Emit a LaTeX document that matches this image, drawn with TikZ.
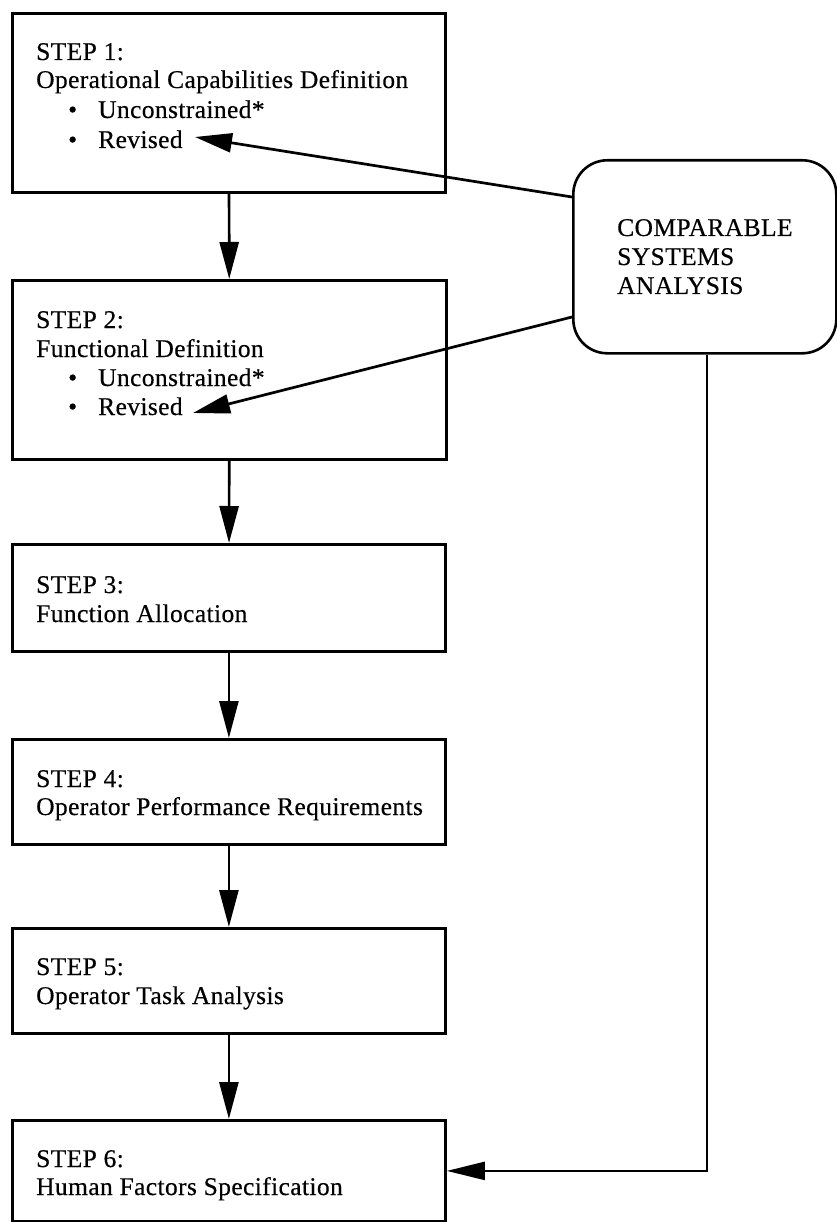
\documentclass[tikz,border=0pt]{standalone}
\usepackage{fontspec}
\setmainfont{Liberation Serif}[LetterSpace=1.5,FakeBold=0.4]
\usetikzlibrary{arrows.meta}
\begin{document}
\begin{tikzpicture}[x=1pt,y=-1pt,
  stepbox/.style={draw, line width=2.8pt, rectangle, inner sep=0pt, anchor=north west},
  csabox/.style={draw, line width=2.6pt, rectangle, rounded corners=34pt, inner sep=0pt, anchor=north west},
  txt/.style={anchor=base west, inner sep=0pt, font=\fontsize{25.5}{29}\selectfont},
  arr/.style={line width=2.7pt, -{Triangle[length=37pt,width=19pt]}},
  thinarr/.style={line width=2.3pt, -{Triangle[length=38pt,width=18pt]}}]
\useasboundingbox (0,0) rectangle (836,1222);
% boxes
\node[stepbox, minimum width=433pt, minimum height=179pt] (b1) at (11,12) {};
\node[stepbox, minimum width=434pt, minimum height=179pt] (b2) at (11,279) {};
\node[stepbox, minimum width=433pt, minimum height=107pt] (b3) at (11,543) {};
\node[stepbox, minimum width=433pt, minimum height=105pt] (b4) at (11,738) {};
\node[stepbox, minimum width=433pt, minimum height=105pt] (b5) at (11,927) {};
\node[stepbox, minimum width=433pt, minimum height=101pt] (b6) at (11,1119) {};
\node[csabox, minimum width=263pt, minimum height=193pt] (csa) at (572,159) {};
% texts
\node[txt] (s1) at (36,60) {STEP 1:};
\node[txt] (d1) at (36,88) {Operational Capabilities Definition};
\node[txt] (u1) at (68,118) {\makebox[30pt][l]{•}Unconstrained*};
\node[txt] (r1) at (68,148) {\makebox[30pt][l]{•}Revised};
\node[txt] (s2) at (36,328) {STEP 2:};
\node[txt] (d2) at (36,357) {Functional Definition};
\node[txt] (u2) at (68,386) {\makebox[30pt][l]{•}Unconstrained*};
\node[txt] (r2) at (68,415) {\makebox[30pt][l]{•}Revised};
\node[txt] (s3) at (36,593) {STEP 3:};
\node[txt] (d3) at (36,622) {Function Allocation};
\node[txt] (s4) at (36,787) {STEP 4:};
\node[txt] (d4) at (36,815) {Operator Performance Requirements};
\node[txt] (s5) at (36,975) {STEP 5:};
\node[txt] (d5) at (36,1004) {Operator Task Analysis};
\node[txt] (s6) at (36,1167) {STEP 6:};
\node[txt] (d6) at (36,1195) {Human Factors Specification};
\node[txt] (c1) at (617,236) {COMPARABLE};
\node[txt] (c2) at (617,265) {SYSTEMS};
\node[txt] (c3) at (617,294) {ANALYSIS};
% connectors
\draw[arr] (b1) -- (b2);
\draw[arr] (b2) -- (b3);
\draw[arr] (b3) -- (b4);
\draw[arr] (b4) -- (b5);
\draw[arr] (b5) -- (b6);
\coordinate (e1) at (572,197);
\coordinate (t1) at (195,137);
\coordinate (e2) at (572,317);
\coordinate (t2) at (193,413);
\draw[arr] (e1) -- (t1);
\draw[arr] (e2) -- (t2);
\draw[thinarr] ([xshift=2.5pt]csa.south) |- (b6.east);
\end{tikzpicture}
\end{document}
